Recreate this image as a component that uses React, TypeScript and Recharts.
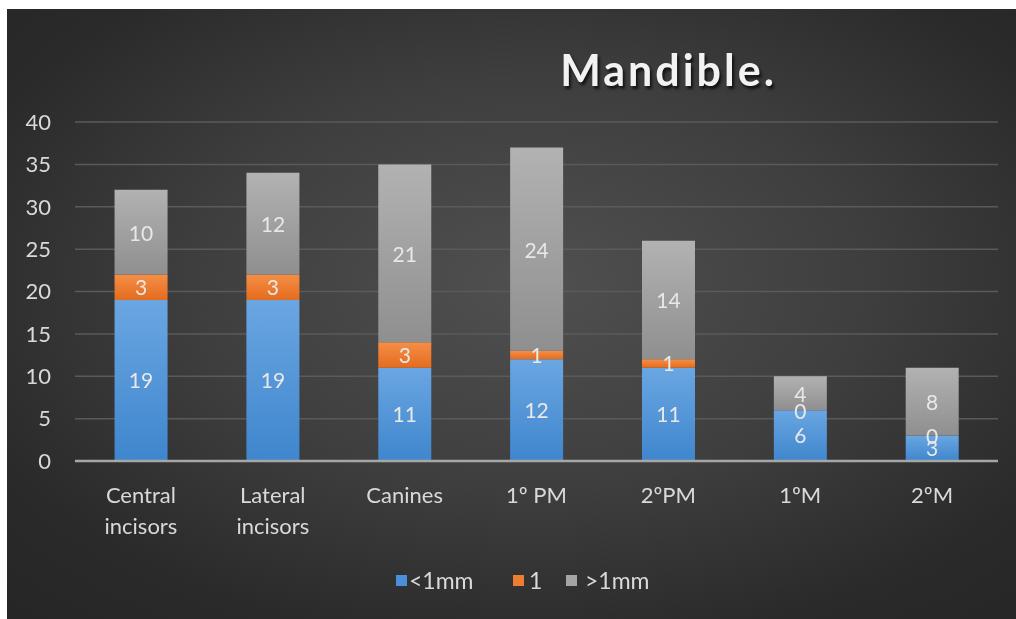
import React from "react";
import { BarChart, Bar, XAxis, YAxis, CartesianGrid, LabelList } from "recharts";

const categories = ["Central incisors", "Lateral incisors", "Canines", "1º PM", "2ºPM", "1ºM", "2ºM"];
const lessThan1mm = [19, 19, 11, 12, 11, 6, 3];
const equal1 = [3, 3, 3, 1, 1, 0, 0];
const greaterThan1mm = [10, 12, 21, 24, 14, 4, 8];
const yTicks = [0, 5, 10, 15, 20, 25, 30, 35, 40];
const seriesNames = ["<1mm", "1", ">1mm"];

const data = categories.map((c, i) => ({
  name: c,
  a: lessThan1mm[i],
  b: equal1[i],
  c: greaterThan1mm[i],
}));

const FONT = "Lato, 'Open Sans', sans-serif";
const LABEL_FILL = "#e8e8e8";

const XTick = (props: any) => {
  const { x, y, payload } = props;
  const words = String(payload.value).split(" ");
  const lines =
    payload.value === "Central incisors" || payload.value === "Lateral incisors"
      ? words
      : [payload.value];
  return (
    <g transform={`translate(${x},${y})`}>
      {lines.map((l: string, i: number) => (
        <text
          key={i}
          x={0}
          y={34 + i * 31}
          textAnchor="middle"
          fill="#d9d9d9"
          fontSize={22}
          fontFamily={FONT}
        >
          {l}
        </text>
      ))}
    </g>
  );
};

// Labels for the top (gray) segment; also draws the "0" label of the
// zero-height middle segment at its boundary, as the reference does.
const GrayLabel = (props: any) => {
  const { x, y, width, height, value, index } = props;
  const cx = x + width / 2;
  const items = [
    <text
      key="v"
      x={cx}
      y={y + height / 2}
      textAnchor="middle"
      dominantBaseline="central"
      fill={LABEL_FILL}
      fontSize={21}
      fontFamily={FONT}
    >
      {value}
    </text>,
  ];
  if (data[index] && data[index].b === 0) {
    items.push(
      <text
        key="z"
        x={cx}
        y={y + height}
        textAnchor="middle"
        dominantBaseline="central"
        fill={LABEL_FILL}
        fontSize={21}
        fontFamily={FONT}
      >
        {data[index].b}
      </text>
    );
  }
  return <g>{items}</g>;
};

const LegendRow = () => {
  const colors = ["#4a90d9", "#ed7d31", "#a5a5a5"];
  const items = [
    { left: 389, textLeft: 402 },
    { left: 506, textLeft: 522 },
    { left: 559, textLeft: 578 },
  ];
  return (
    <>
      {seriesNames.map((n, i) => (
        <React.Fragment key={n}>
          <div
            style={{
              position: "absolute",
              left: items[i].left,
              top: 566,
              width: 11,
              height: 11,
              background: colors[i],
            }}
          />
          <div
            style={{
              position: "absolute",
              left: items[i].textLeft,
              top: 557,
              fontSize: 23,
              fontFamily: FONT,
              color: "#d9d9d9",
              lineHeight: "28px",
            }}
          >
            {n}
          </div>
        </React.Fragment>
      ))}
    </>
  );
};

export default function App() {
  return (
    <div
      style={{
        position: "fixed",
        left: 7,
        top: 9,
        width: 1009,
        height: 610,
        overflow: "hidden",
        background:
          "radial-gradient(ellipse 75% 75% at 52% 45%, #505050 0%, #3e3e3e 45%, #2a2a2a 80%, #262626 100%)",
      }}
    >
      <div
        style={{
          position: "absolute",
          left: 0,
          width: 1009,
          top: 35,
          textAlign: "center",
          paddingLeft: 314,
          boxSizing: "border-box",
          fontFamily: FONT,
          fontWeight: 700,
          fontSize: 43,
          letterSpacing: 3,
          color: "#f2f2f2",
          textShadow: "2px 3px 3px rgba(0,0,0,0.7)",
        }}
      >
        Mandible.
      </div>
      <BarChart
        width={1009}
        height={610}
        data={data}
        margin={{ top: 113, right: 18, bottom: 128, left: 0 }}
        barCategoryGap="30%"
        style={{ position: "absolute", left: 0, top: 0 }}
      >
        <defs>
          <linearGradient id="gBlue" x1="0" y1="0" x2="0" y2="1">
            <stop offset="0%" stopColor="#6aa6e2" />
            <stop offset="100%" stopColor="#3f86cd" />
          </linearGradient>
          <linearGradient id="gOrange" x1="0" y1="0" x2="0" y2="1">
            <stop offset="0%" stopColor="#f58e47" />
            <stop offset="100%" stopColor="#e46c1e" />
          </linearGradient>
          <linearGradient id="gGray" x1="0" y1="0" x2="0" y2="1">
            <stop offset="0%" stopColor="#b2b2b2" />
            <stop offset="100%" stopColor="#8f8f8f" />
          </linearGradient>
          <filter id="barShadow" x="-20%" y="-5%" width="140%" height="110%">
            <feDropShadow dx="1.5" dy="1.5" stdDeviation="2" floodColor="#000" floodOpacity="0.45" />
          </filter>
        </defs>
        <CartesianGrid vertical={false} stroke="#5a5a5a" strokeWidth={1.5} />
        <XAxis
          dataKey="name"
          height={30}
          axisLine={{ stroke: "#a6a6a6", strokeWidth: 2.5 }}
          tickLine={false}
          interval={0}
          tick={<XTick />}
        />
        <YAxis
          width={68}
          domain={[0, 40]}
          ticks={yTicks}
          axisLine={false}
          tickLine={false}
          tickSize={0}
          tickMargin={24}
          tick={{ fill: "#d9d9d9", fontSize: 22, fontFamily: FONT }}
          interval={0}
        />
        <Bar dataKey="a" stackId="s" fill="url(#gBlue)" isAnimationActive={false}>
          <LabelList dataKey="a" position="center" fill={LABEL_FILL} fontSize={21} fontFamily={FONT} />
        </Bar>
        <Bar dataKey="b" stackId="s" fill="url(#gOrange)" isAnimationActive={false}>
          <LabelList dataKey="b" position="center" fill={LABEL_FILL} fontSize={21} fontFamily={FONT} />
        </Bar>
        <Bar dataKey="c" stackId="s" fill="url(#gGray)" isAnimationActive={false}>
          <LabelList dataKey="c" content={<GrayLabel />} />
        </Bar>
      </BarChart>
      <LegendRow />
    </div>
  );
}
